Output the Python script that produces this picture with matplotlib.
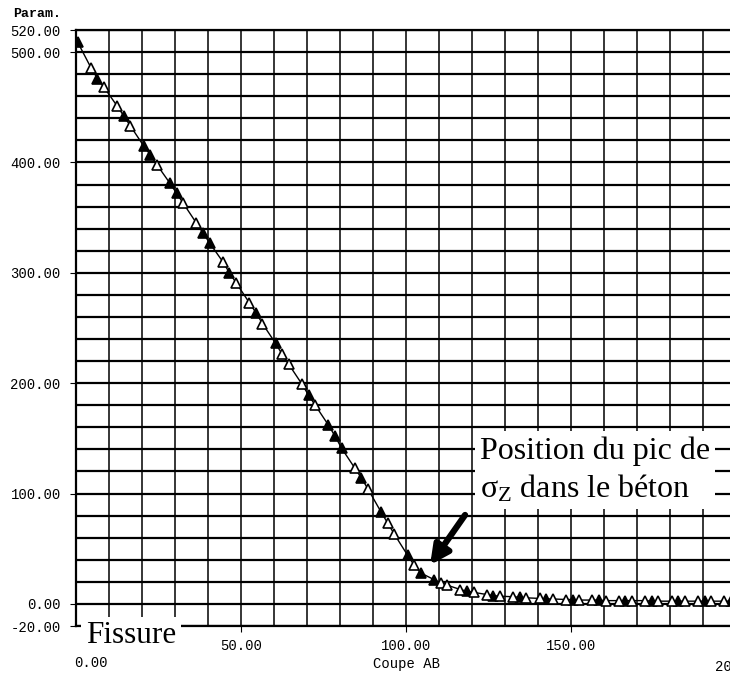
# -*- coding: utf-8 -*-

#%% import modules and set default fonts
import numpy as np
import matplotlib.pyplot as plt

plt.rcParams.update({'font.family': 'Liberation Mono'})
plt.rcParams.update({'font.size': 10})
plt.rcParams.update({'mathtext.fontset': 'custom'})
plt.rcParams.update({'mathtext.rm': 'Liberation Serif'})
plt.rcParams.update({'mathtext.it': 'Liberation Serif:italic'})
plt.close('all')

# ======================================================
# DATA
# ======================================================

coupe_x = [0.5,
           4.5, 6.5, 8.5, 12.5, 14.5, 16.5, 20.5, 22.5, 24.5,
           28.5, 30.5, 32.5, 36.5, 38.5, 40.5, 44.5, 46.5, 48.5,
           52.5, 54.5, 56.5, 60.5, 62.5, 64.5, 68.5, 70.5, 72.5,
           76.5, 78.5, 80.5, 84.5, 86.5, 88.5, 92.5, 94.5, 96.5,
           100.5, 102.5, 104.5, 108.5, 110.5, 112.5, 116.5, 118.5, 120.5,
           124.5, 126.5, 128.5, 132.5, 134.5, 136.5, 140.5, 142.5, 144.5,
           148.5, 150.5, 152.5, 156.5, 158.5, 160.5, 164.5, 166.5, 168.5,
           172.5, 174.5, 176.5, 180.5, 182.5, 184.5, 188.5, 190.5, 192.5,
           196.5, 198.5]

param = [509,
         486, 476, 468, 451, 442, 433, 415, 407, 398,
         381, 372, 363, 345, 336, 327, 310, 300, 291,
         273, 264, 254, 236, 226, 217, 199, 189, 180,
         162, 152, 141, 123, 114, 104, 83, 73, 63,
         44, 35, 28, 22, 19, 17, 13, 11.5, 10.5,
         8.5, 7.5, 7, 6.5, 6, 5.5, 5, 4.5, 4.5,
         4, 4, 3.5, 3.5, 3.5, 3, 3, 3, 3,
         3, 2.5, 2.5, 2.5, 2.5, 2.5, 2.5, 2.5, 2.5,
         2.5, 2.5]

# 1 = filled triangle, 0 = open triangle
filled = [1,
          0, 1, 0, 0, 1, 0, 1, 1, 0,
          1, 1, 0, 0, 1, 1, 0, 1, 0,
          0, 1, 0, 1, 0, 0, 0, 1, 0,
          1, 1, 1, 0, 1, 0, 1, 0, 0,
          1, 0, 1, 1, 0, 0, 0, 1, 0,
          0, 1, 0, 0, 1, 0, 0, 1, 0,
          0, 1, 0, 0, 1, 0, 0, 1, 0,
          0, 1, 0, 0, 1, 0, 0, 1, 0,
          0, 1]

y_ticks = [-20, 0, 100, 200, 300, 400, 500, 520]
x_ticks = [50, 100, 150]

# ======================================================
# PLOT
# ======================================================

coupe_x = np.array(coupe_x)
param = np.array(param)
filled = np.array(filled, dtype=bool)

fig = plt.figure(figsize=(7.3, 6.73), dpi=100)
# right edge of the axes sits just past the figure, like the cropped scan
ax = fig.add_axes([76 / 730, 47 / 673, 660 / 730, 596 / 673])
ax.set_xlim(0, 200)
ax.set_ylim(-20, 520)

# grid: 10 units in x, 20 units in y
for yv in np.arange(-20, 521, 20):
    ax.axhline(yv, color='black', lw=1.6, zorder=1)
for xv in np.arange(0, 201, 10):
    ax.axvline(xv, color='black', lw=1.1, zorder=1)

for s in ax.spines.values():
    s.set_color('black')
    s.set_linewidth(1.6)

ax.plot(coupe_x, param, color='black', lw=1.0, zorder=3)
ax.plot(coupe_x[filled], param[filled], ls='none', marker='^', ms=6.5,
        mfc='black', mec='black', mew=1.2, zorder=4)
ax.plot(coupe_x[~filled], param[~filled], ls='none', marker='^', ms=6.5,
        mfc='white', mec='black', mew=1.2, zorder=4)

ax.set_yticks(y_ticks)
ax.set_yticklabels([f"{v:.2f}" for v in y_ticks])
ax.set_xticks(x_ticks)
ax.set_xticklabels([f"{v:.2f}" for v in x_ticks])
ax.tick_params(axis='y', length=4, pad=7, labelsize=10)
ax.tick_params(axis='x', length=4, pad=5, labelsize=10)

# end labels of the x axis sit one row lower, with the axis title
xt = ax.get_xaxis_transform()
ax.text(4.5, -0.062, "0.00", transform=xt, ha='center', va='center',
        fontsize=10, clip_on=False)
ax.text(100.3, -0.063, "Coupe AB", transform=xt, ha='center', va='center',
        fontsize=10, clip_on=False)
ax.text(201.2, -0.069, "200.00", transform=xt, ha='center', va='center',
        fontsize=10, clip_on=False)

fig.text(13 / 730, 1 - 14 / 673, "Param.", ha='left', va='center',
         fontsize=9.5, fontweight='bold')

# ======================================================
# ANNOTATIONS
# ======================================================

ax.text(3.0, -29, "Fissure", family='Liberation Serif', fontsize=22.5,
        ha='left', va='center', zorder=6, clip_on=False,
        bbox=dict(boxstyle='square,pad=0.15', fc='white', ec='none'))

ax.text(122.4, 121, "Position du pic de\nσ$_{\\mathrm{Z}}$ dans le béton",
        family='Liberation Serif', fontsize=23, ha='left', va='center',
        linespacing=1.3, zorder=6,
        bbox=dict(boxstyle='square,pad=0.15', fc='white', ec='none'))

ax.annotate("", xy=(107.3, 35.3), xytext=(117.9, 80.6),
            arrowprops=dict(arrowstyle='-|>', color='black', lw=4.5,
                            mutation_scale=28, shrinkA=0, shrinkB=0),
            zorder=7)

fig.savefig("out.png", dpi=100)
